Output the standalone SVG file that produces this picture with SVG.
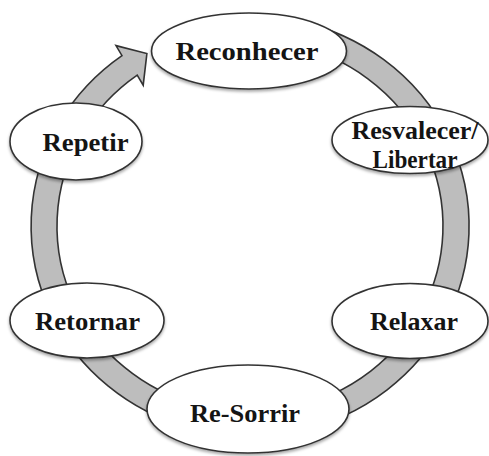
<svg xmlns="http://www.w3.org/2000/svg" width="489" height="456" viewBox="0 0 489 456">
  <style>
    .band { fill: #bdbdbd; stroke: #333333; stroke-width: 1.6; stroke-linejoin: miter; }
    .node ellipse { fill: #ffffff; stroke: #333333; stroke-width: 1.6; filter: url(#shadow); }
    .node text { font-family: "Liberation Serif", "Times New Roman", serif; font-weight: bold; font-size: 25px; fill: #141414; text-anchor: middle; }
  </style>
  <defs>
    <filter id="shadow" x="-20%" y="-20%" width="140%" height="150%">
      <feDropShadow dx="0" dy="2" stdDeviation="1.8" flood-color="#000000" flood-opacity="0.35"/>
    </filter>
  </defs>
  <rect width="489" height="456" fill="#ffffff"/>
  <g id="connectors">
    <path class="band" d="M 299.3 21.4 A 219 210 0 1 1 122 55.7 L 116 45.6 L 146.9 53.5 L 143.2 85.2 L 137.2 75.1 A 193 186 0 1 0 293.4 44.8 Z"/>
  </g>
  <g id="node-reconhecer" class="node">
    <ellipse cx="249" cy="51" rx="97.5" ry="38"/>
    <text x="247" y="60" textLength="143" lengthAdjust="spacingAndGlyphs">Reconhecer</text>
  </g>
  <g id="node-resvalecer" class="node">
    <ellipse cx="410" cy="140" rx="78" ry="33.5"/>
    <text x="415" y="138.5" textLength="127" lengthAdjust="spacingAndGlyphs">Resvalecer/</text>
    <text x="415" y="167.5" textLength="85" lengthAdjust="spacingAndGlyphs">Libertar</text>
  </g>
  <g id="node-relaxar" class="node">
    <ellipse cx="410" cy="321" rx="78" ry="37.5"/>
    <text x="414" y="330" textLength="88" lengthAdjust="spacingAndGlyphs">Relaxar</text>
  </g>
  <g id="node-resorrir" class="node">
    <ellipse cx="248" cy="409" rx="101" ry="44"/>
    <text x="245" y="421.5" textLength="110" lengthAdjust="spacingAndGlyphs">Re-Sorrir</text>
  </g>
  <g id="node-retornar" class="node">
    <ellipse cx="87" cy="320.5" rx="77" ry="37.5"/>
    <text x="87.5" y="330" textLength="105" lengthAdjust="spacingAndGlyphs">Retornar</text>
  </g>
  <g id="node-repetir" class="node">
    <ellipse cx="76" cy="141.5" rx="66" ry="38.5"/>
    <text x="85.5" y="150.5" textLength="86" lengthAdjust="spacingAndGlyphs">Repetir</text>
  </g>
</svg>
